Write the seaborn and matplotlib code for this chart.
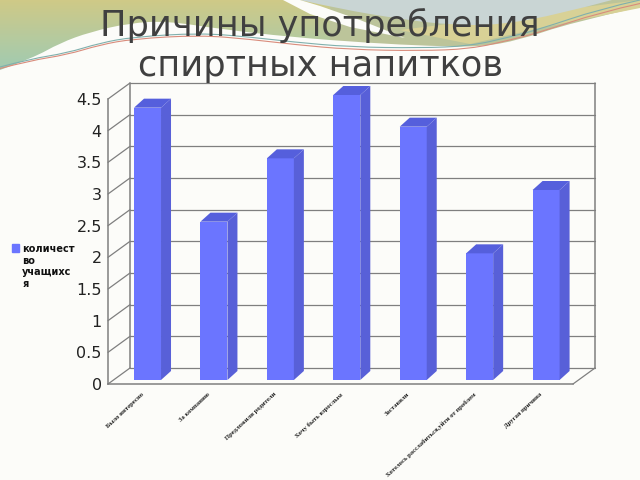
import numpy as np
import pandas as pd
import seaborn as sns
import matplotlib
matplotlib.use("Agg")
import matplotlib.pyplot as plt
from matplotlib.patches import Polygon, Rectangle
from matplotlib.path import Path
from matplotlib.legend_handler import HandlerPatch

# ---- data ----
categories = ["Было интересно", "За компанию", "Предложили родители", "Хочу быть взрослым",
              "Заставили", "Хотелось расслабиться,уйти от проблем", "Другая причина"]
values = [4.3, 2.5, 3.5, 4.5, 4.0, 2.0, 3.0]
series_label = "количест\nво\nучащихс\nя"
y_ticks = [0, 0.5, 1, 1.5, 2, 2.5, 3, 3.5, 4, 4.5]
y_labels = ["0", "0.5", "1", "1.5", "2", "2.5", "3", "3.5", "4", "4.5"]
title = "Причины употребления\nспиртных напитков"

W, H = 640, 480
BAR, SIDE, TOP = "#6b75ff", "#5860d8", "#555fdc"
GRID, TXT = "#7f7f7f", "#404040"

sns.set_theme(style="white")
plt.rcParams["font.family"] = ["DejaVu Sans"]
fig = plt.figure(figsize=(W / 100, H / 100), dpi=100, facecolor="#fcfcf9")


def rect(x0, ytop, x1, ybot):
    return [x0 / W, 1 - ybot / H, (x1 - x0) / W, (ybot - ytop) / H]


# ---- decorative slide background, in pixel coordinates ----
bg = fig.add_axes([0, 0, 1, 1], zorder=-1)
bg.set_xlim(0, W); bg.set_ylim(H, 0); bg.axis("off")


def curve_xy(pts):
    pts = np.array(pts, float)
    v = [pts[0]]; c = [Path.MOVETO]
    for i in range(1, len(pts) - 1):
        mid = (pts[i] + pts[i + 1]) / 2 if i < len(pts) - 2 else pts[i + 1]
        v += [pts[i], mid]; c += [Path.CURVE3, Path.CURVE3]
    return Path(v, c).to_polygons(closed_only=False)[0]


olive_edge = [(0, 70), (33, 58), (60, 43), (90, 32), (130, 23), (167, 21), (220, 29), (290, 37),
              (370, 43), (430, 46), (480, 47), (520, 40), (570, 23), (640, 7)]
oliv = curve_xy(olive_edge)
grad = np.linspace(0, 1, 70)[:, None]
c_top, c_low = np.array([207, 201, 135]) / 255, np.array([160, 203, 178]) / 255
img = (c_top[None, None, :] * (1 - grad[..., None]) + c_low[None, None, :] * grad[..., None])
im = bg.imshow(img, extent=[0, 330, 70, 0], aspect="auto", zorder=1)
clip = Polygon(np.vstack([[[0, 0]], oliv, [[640, 0]]]), closed=True, transform=bg.transData)
im.set_clip_path(clip)
bg.set_xlim(0, W); bg.set_ylim(H, 0)
bg.fill(*np.vstack([[[330, 0]], oliv[oliv[:, 0] >= 330], [[640, 0]]]).T, color="#bcc49a", lw=0, zorder=1)
bg.fill([400, 640, 640, 540, 470], [30, 0, 8, 28, 44], color="#d8d196", lw=0, zorder=1.1)
blue = [(300, 0), (340, 9), (400, 19), (450, 25), (500, 25), (560, 14), (612, 0)]
bg.fill(*np.vstack([curve_xy(blue), [[640, 0]]]).T, color="#c9d5d4", lw=0, zorder=2)
bg.fill([283, 310, 350, 405, 360, 320, 300], [0, 14, 27, 38, 20, 6, 0], color="#fcfcf9", lw=0, zorder=3)
line_pts = [(0, 68), (30, 60), (67, 54), (100, 44), (133, 38), (200, 34), (250, 38), (293, 43), (350, 48),
            (420, 49), (470, 47), (510, 38), (540, 30), (600, 10), (640, 1)]
lp = curve_xy(line_pts)
bg.plot(lp[:, 0], lp[:, 1] - 1, color="#7fb0ad", lw=0.8, zorder=4)
bg.plot(lp[:, 0], lp[:, 1] + 0.5 + lp[:, 0] / 640 * 2, color="#d98c7c", lw=0.8, zorder=4)

# ---- frame: front plane axes ----
FX0, FX1, FY0, FYT = 108, 573, 384, 99
ax = fig.add_axes(rect(FX0, FYT, FX1, FY0), zorder=1)
ax.patch.set_alpha(0)
ax.set_xlim(-0.5, 6.5); ax.set_ylim(0, 4.5)
px_x = (FX1 - FX0) / 7
px_y = (FY0 - FYT) / 4.5
dx, dy = 22 / px_x, 16 / px_y
for s in ["top", "right"]:
    ax.spines[s].set_visible(False)
for s in ["left", "bottom"]:
    ax.spines[s].set_color(GRID); ax.spines[s].set_linewidth(1.1)
for y in y_ticks:
    ax.plot([-0.5, -0.5 + dx], [y, y + dy], color=GRID, lw=0.9, clip_on=False)
    ax.plot([-0.5 + dx, 6.5 + dx], [y + dy, y + dy], color=GRID, lw=0.9, clip_on=False)
ax.plot([-0.5 + dx] * 2, [dy, 4.5 + dy], color=GRID, lw=1.1, clip_on=False)
ax.plot([6.5 + dx] * 2, [dy, 4.5 + dy], color=GRID, lw=1.1, clip_on=False)
ax.plot([6.5, 6.5 + dx], [0, dy], color=GRID, lw=0.9, clip_on=False)
ax.set_yticks(y_ticks, y_labels, fontsize=11.5, color="#222222")
ax.set_xticks(range(len(categories)))
ax.set_xticklabels(categories, rotation=43, ha="right", rotation_mode="anchor",
                   fontsize=4.75, family="Liberation Serif", fontweight="bold", color="#222222")
ax.tick_params(axis="x", length=0, pad=5.5)
ax.tick_params(axis="y", length=0, pad=4.5)
ax.set_xlabel(""); ax.set_ylabel("")

# ---- bars sit mid-depth ----
bx = fig.add_axes(rect(FX0 + 6.3, FYT - 4, FX1 + 6.3, FY0 - 4), zorder=2)
bx.patch.set_alpha(0)
df = pd.DataFrame({"cat": categories, "val": values, "series": series_label})
sns.barplot(data=df, x="cat", y="val", hue="series", palette=[BAR], saturation=1,
            width=27 / px_x, dodge=False, ax=bx, legend=False, linewidth=0)
bx.set_xlim(-0.5, 6.5); bx.set_ylim(0, 4.5); bx.axis("off")
ddx, ddy = 10 / px_x, 9 / px_y
for p in list(bx.patches):
    x0, x1, h = p.get_x(), p.get_x() + p.get_width(), p.get_height()
    bx.add_patch(Polygon([(x1, 0), (x1 + ddx, ddy), (x1 + ddx, h + ddy), (x1, h)], color=SIDE, lw=0, clip_on=False))
    bx.add_patch(Polygon([(x0, h), (x0 + ddx, h + ddy), (x1 + ddx, h + ddy), (x1, h)], color=TOP, lw=0, clip_on=False))


# ---- legend: marker level with the first line of the wrapped label ----
def raised_marker(legend, orig_handle, xdescent, ydescent, width, height, fontsize):
    return Rectangle((-xdescent, -ydescent + 13.7), width, height)


h = [Rectangle((0, 0), 1, 1, color=BAR)]
fig.legend(h, [series_label], loc="upper left", bbox_to_anchor=(12 / W, 1 - 244 / H), frameon=False,
           handlelength=0.75, handleheight=0.75, handletextpad=0.3, borderpad=0, borderaxespad=0,
           prop={"size": 7, "weight": "bold"}, labelcolor="#111111", labelspacing=0,
           handler_map={Rectangle: HandlerPatch(patch_func=raised_marker)})

fig.text(0.5, 1 - 45.5 / H, title, ha="center", va="center", fontsize=25.3, color=TXT, linespacing=1.22, zorder=5)
fig.savefig("out.png", dpi=100, facecolor=fig.get_facecolor())
